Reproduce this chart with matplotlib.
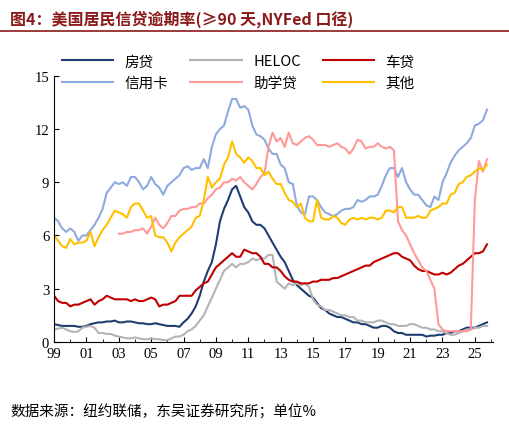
import matplotlib
matplotlib.use("Agg")
import matplotlib.pyplot as plt
import numpy as np

plt.rcParams['font.family'] = ['Noto Sans CJK SC', 'DejaVu Sans']

mortgage = [1.0,0.95,0.9,0.9, 0.9,0.9,0.85,0.85, 0.9,1.0,1.05,1.1, 1.1,1.15,1.15,1.2, 1.1,1.1,1.15,1.15, 1.1,1.05,1.05,1.0, 1.0,1.05,1.0,0.95,
            0.9,0.9,0.9,0.85, 1.1,1.3,1.6,2.0, 2.6,3.4,4.0,4.5, 5.5,6.8,7.5,8.0, 8.6,8.8,8.2,7.6,
            7.3,6.8,6.6,6.6, 6.4,6.0,5.6,5.2, 4.8,4.5,4.0,3.5, 3.2,3.0,2.8,2.6, 2.5,2.2,1.9,1.8,
            1.6,1.5,1.4,1.4, 1.3,1.2,1.1,1.1, 1.0,1.0,0.9,0.8, 0.8,0.9,0.9,0.8, 0.6,0.5,0.5,0.4,
            0.4,0.4,0.4,0.4, 0.3,0.35,0.35,0.4, 0.4,0.5,0.5,0.6, 0.6,0.7,0.8,0.8, 0.8,0.9,1.0,1.1]
heloc = [0.7,0.75,0.8,0.7, 0.6,0.55,0.6,0.8, 0.85,0.9,0.8,0.5, 0.5,0.45,0.45,0.35, 0.3,0.25,0.2,0.2, 0.25,0.2,0.15,0.15,
         0.2,0.15,0.15,0.1, 0.1,0.2,0.3,0.3, 0.4,0.6,0.7,0.9, 1.2,1.5,2.0,2.5, 3.0,3.5,4.0,4.2,
         4.4,4.2,4.4,4.4, 4.5,4.7,4.6,4.7, 4.7,4.9,4.9,3.4, 3.2,3.0,3.3,3.2, 3.3,3.2,3.3,3.1,
         2.4,2.1,2.0,1.8, 1.8,1.7,1.6,1.5, 1.5,1.4,1.4,1.2, 1.2,1.1,1.1,1.1, 1.2,1.2,1.1,1.0,
         1.0,0.9,0.9,0.9, 1.0,1.0,0.9,0.8, 0.8,0.7,0.7,0.6, 0.6,0.5,0.4,0.4, 0.5,0.6,0.7,0.7, 0.8,0.8,0.9,0.9]
auto = [2.6,2.3,2.2,2.2, 2.0,2.1,2.1,2.2, 2.3,2.4,2.1,2.3, 2.4,2.6,2.5,2.4, 2.4,2.4,2.4,2.3, 2.4,2.3,2.3,2.4,
        2.5,2.4,2.0,2.1, 2.1,2.2,2.3,2.6, 2.6,2.6,2.6,2.9, 3.1,3.3,3.4,3.8, 4.2,4.4,4.6,4.8,
        5.0,4.8,4.8,5.2, 5.1,5.0,5.0,4.8, 4.4,4.4,4.2,4.2, 4.0,3.7,3.5,3.4, 3.4,3.3,3.3,3.3,
        3.4,3.4,3.5,3.5, 3.5,3.6,3.6,3.7, 3.8,3.9,4.0,4.1, 4.2,4.3,4.3,4.5, 4.6,4.7,4.8,4.9,
        5.0,5.0,4.8,4.7, 4.6,4.3,4.1,4.0, 4.0,3.9,3.8,3.8, 3.9,3.8,3.9,4.1, 4.3,4.4,4.6,4.8, 5.0,5.0,5.1,5.5]
card = [7.0,6.8,6.4,6.2, 6.4,6.2,5.7,6.0, 6.0,6.3,6.6,7.0, 7.5,8.4,8.7,9.0, 8.9,9.0,8.8,9.3, 9.3,9.0,8.6,8.8,
        9.3,8.9,8.7,8.3, 8.8,9.0,9.2,9.4, 9.8,9.9,9.7,9.8, 9.8,10.3,9.8,11.0, 11.7,12.0,12.2,13.0,
        13.7,13.7,13.2,13.3, 13.1,12.2,11.7,11.6, 11.4,10.9,10.6,10.6, 10.0,9.8,9.0,8.9, 7.7,7.3,7.2,8.2,
        8.2,8.0,7.6,7.3, 7.2,7.1,7.2,7.4, 7.5,7.5,7.6,8.0, 7.9,8.0,8.2,8.2, 8.3,8.8,9.4,9.8,
        9.8,9.3,9.8,9.0, 8.6,8.3,8.3,8.0, 7.7,7.6,8.2,8.0, 9.0,9.5,10.1,10.5, 10.8,11.0,11.2,11.5, 12.2,12.3,12.5,13.1]
student = [np.nan]*16 + [6.1,6.1,6.2,6.2, 6.3,6.3,6.4,6.1, 6.5,7.0,6.6,6.4, 6.7,7.1,7.1,7.4,
           7.5,7.5,7.6,7.6, 7.8,7.8,8.1,8.3, 8.6,8.7,9.0,9.0, 9.2,9.1,9.3,9.0, 8.8,8.6,8.9,9.3,
           9.5,11.0,11.8,11.3, 11.5,11.0,11.8,11.2, 11.1,11.3,11.5,11.6, 11.4,11.1,11.1,11.1,
           11.0,11.1,11.2,11.0, 10.9,10.6,10.9,11.4, 11.3,10.9,11.0,11.0, 11.2,11.0,10.9,11.0,
           10.8,6.8,6.3,6.0, 5.5,5.0,4.6,4.2, 4.0,3.5,3.0,1.0, 0.7,0.6,0.6,0.6, 0.6,0.6,0.6,0.7, 8.0,10.2,9.6,10.3]
other = [6.0,5.7,5.4,5.3, 5.8,5.5,5.6,5.6, 5.7,6.2,5.4,5.9, 6.3,6.6,7.0,7.4, 7.3,7.2,7.0,7.6, 7.8,7.8,7.4,7.0,
         7.1,6.0,5.9,5.9, 5.6,5.1,5.6,5.9, 6.1,6.3,6.5,7.0, 7.1,8.0,9.3,8.7, 9.0,9.2,10.0,10.4,
         11.3,10.6,10.4,10.1, 10.4,10.2,9.8,9.8, 9.4,9.6,9.2,8.9, 8.9,8.4,8.0,7.9, 7.6,7.8,7.0,6.8,
         6.8,8.0,7.0,6.9, 6.9,7.1,7.0,6.7, 6.6,6.9,7.0,6.9, 7.0,6.9,7.0,7.0, 6.9,7.0,7.4,7.4,
         7.3,7.6,7.6,7.0, 7.0,7.0,7.1,7.0, 7.0,7.4,7.5,7.6, 7.8,7.8,8.3,8.4, 8.9,9.0,9.3,9.4, 9.6,9.8,9.7,10.0]

names = ['房贷', 'HELOC', '车贷', '信用卡', '助学贷', '其他']
colors = ['#1f3d73', '#b4b4b4', '#c00000', '#8faadc', '#ff9999', '#ffc000']
series = [mortgage, heloc, auto, card, student, other]
tick_years = list(range(1999, 2026, 2))
tick_labels = ['%02d' % (y % 100) for y in tick_years]

x = 1999 + np.arange(len(mortgage)) * 0.25

fig = plt.figure(figsize=(5.1, 4.27), dpi=100)
ax = fig.add_axes([0.106, 0.197, 0.86, 0.623])
handles = []
for s, c, n in zip(series, colors, names):
    h, = ax.plot(x, s[:len(x)], color=c, lw=1.5, label=n)
    handles.append(h)
ax.set_xlim(1999, 2026.1)
ax.set_ylim(0, 15)
ax.set_yticks([0, 3, 6, 9, 12, 15])
ax.set_xticks(tick_years)
ax.set_xticklabels(tick_labels)
ax.set_xticks(range(1999, 2027), minor=True)
for sp in ['top', 'right']:
    ax.spines[sp].set_visible(False)
ax.tick_params(axis='both', labelsize=10.5, direction='in')
ax.tick_params(axis='x', which='both', direction='in')
for lab in ax.get_xticklabels() + ax.get_yticklabels():
    lab.set_fontfamily(['Liberation Serif', 'DejaVu Serif'])
order = [0, 3, 1, 4, 2, 5]
leg = ax.legend([handles[i] for i in order], [names[i] for i in order], ncol=3,
                loc='upper center', bbox_to_anchor=(0.42, 1.13), frameon=False,
                fontsize=10.5, handlelength=3.5, columnspacing=1.5, labelspacing=0.5)

fig.text(0.02, 0.955, '图4：美国居民信贷逾期率(≥90 天,NYFed 口径)', fontsize=11.5,
         fontweight='bold', color='#8b1a1a', va='center')
fig.add_artist(plt.Line2D([0.0, 1.0], [0.925, 0.925], color='#8b1a1a', lw=1.2))
fig.text(0.02, 0.035, '数据来源：纽约联储，东吴证券研究所；单位%', fontsize=10.5, va='center')
fig.savefig('out.png', dpi=100)
